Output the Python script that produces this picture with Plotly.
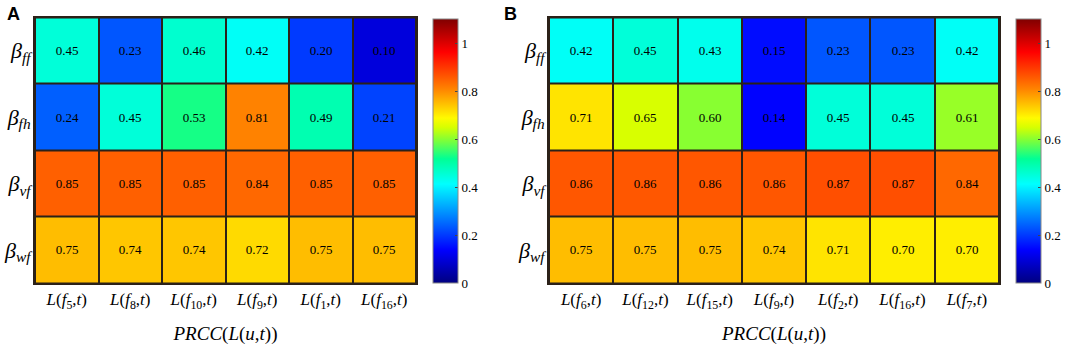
import plotly.graph_objects as go

rows = ["ff", "fh", "vf", "wf"]
cols_a = ["5", "8", "10", "9", "1", "16"]
cols_b = ["6", "12", "15", "9", "2", "16", "7"]

vals_a = [
    [0.45, 0.23, 0.46, 0.42, 0.20, 0.10],
    [0.24, 0.45, 0.53, 0.81, 0.49, 0.21],
    [0.85, 0.85, 0.85, 0.84, 0.85, 0.85],
    [0.75, 0.74, 0.74, 0.72, 0.75, 0.75],
]
vals_b = [
    [0.42, 0.45, 0.43, 0.15, 0.23, 0.23, 0.42],
    [0.71, 0.65, 0.60, 0.14, 0.45, 0.45, 0.61],
    [0.86, 0.86, 0.86, 0.86, 0.87, 0.87, 0.84],
    [0.75, 0.75, 0.75, 0.74, 0.71, 0.70, 0.70],
]
cbar_ticks = [0, 0.2, 0.4, 0.6, 0.8, 1]
cbar_ticktext = ["0", "0.2", "0.4", "0.6", "0.8", "1"]

# jet-like colour map as in the reference
cmap = [
    [0.0, "rgb(0,0,128)"],
    [0.125, "rgb(0,0,255)"],
    [0.375, "rgb(0,255,255)"],
    [0.47, "rgb(0,255,150)"],
    [0.545, "rgb(135,255,50)"],
    [0.59, "rgb(215,255,0)"],
    [0.625, "rgb(255,250,0)"],
    [0.736, "rgb(255,130,0)"],
    [0.875, "rgb(255,0,0)"],
    [1.0, "rgb(128,0,0)"],
]

W, H = 1065, 345
serif = "'Liberation Serif', 'DejaVu Serif', serif"
dark = "#2b2118"

ylabels = [f"<i>β</i><sub><i>{r}</i></sub>" for r in rows]
xl_a = [f"<i>L</i>(<i>f</i><sub>{c}</sub>,<i>t</i>)" for c in cols_a]
xl_b = [f"<i>L</i>(<i>f</i><sub>{c}</sub>,<i>t</i>)" for c in cols_b]

fig = go.Figure()
fig.add_trace(go.Heatmap(
    z=vals_a, x=list(range(len(cols_a))), y=list(range(len(rows))),
    coloraxis="coloraxis", xgap=2, ygap=2,
    texttemplate="%{z:.2f}", textfont=dict(family=serif, size=13, color="black"),
    xaxis="x", yaxis="y", hoverinfo="skip"))
fig.add_trace(go.Heatmap(
    z=vals_b, x=list(range(len(cols_b))), y=list(range(len(rows))),
    coloraxis="coloraxis2", xgap=2, ygap=2,
    texttemplate="%{z:.2f}", textfont=dict(family=serif, size=13, color="black"),
    xaxis="x2", yaxis="y2", hoverinfo="skip"))

def px_x(p):
    return p / W

def px_y(p):
    return 1 - p / H

top, bot = 17.5, 283
cb = dict(
    tickvals=cbar_ticks, ticktext=cbar_ticktext,
    tickfont=dict(family=serif, size=13, color="black"),
    thickness=25, thicknessmode="pixels",
    len=264, lenmode="pixels", yanchor="top", y=px_y(19),
    xanchor="left", xpad=0, ypad=0,
    outlinecolor="#888", outlinewidth=1,
    ticks="inside", ticklen=3, tickcolor="#444",
)
axis_common = dict(showgrid=False, zeroline=False, showline=True, mirror=True,
                   linecolor=dark, linewidth=2)
title_text = "<i>PRCC</i>(<i>L</i>(<i>u</i>,<i>t</i>))"
title_font = dict(family=serif, size=19, color="black")
xtick_font = dict(family=serif, size=17, color="black")
ytick_font = dict(family=serif, size=22, color="black")

fig.update_layout(
    width=W, height=H,
    margin=dict(l=0, r=0, t=0, b=0),
    paper_bgcolor="white", plot_bgcolor=dark,
    coloraxis=dict(colorscale=cmap, cmin=0, cmax=1.1,
                   colorbar=dict(cb, x=px_x(433))),
    coloraxis2=dict(colorscale=cmap, cmin=0, cmax=1.1,
                    colorbar=dict(cb, x=px_x(1016))),
    xaxis=dict(axis_common, domain=[px_x(35), px_x(416)], range=[-0.5, len(cols_a) - 0.5],
               tickvals=list(range(len(cols_a))), ticktext=xl_a, ticks="",
               tickfont=xtick_font, ticklabelstandoff=0,
               title=dict(text=title_text, font=title_font, standoff=19)),
    yaxis=dict(axis_common, domain=[px_y(bot), px_y(top)], range=[len(rows) - 0.5, -0.5],
               tickvals=list(range(len(rows))), ticktext=ylabels, ticks="",
               tickfont=ytick_font, ticklabelstandoff=-2),
    xaxis2=dict(axis_common, domain=[px_x(549), px_x(999)], range=[-0.5, len(cols_b) - 0.5],
                tickvals=list(range(len(cols_b))), ticktext=xl_b, ticks="",
                tickfont=xtick_font, ticklabelstandoff=0, anchor="y2",
                title=dict(text=title_text, font=title_font, standoff=19)),
    yaxis2=dict(axis_common, domain=[px_y(bot), px_y(top)], range=[len(rows) - 0.5, -0.5],
                tickvals=list(range(len(rows))), ticktext=ylabels, ticks="", anchor="x2",
                tickfont=ytick_font, ticklabelstandoff=-2),
    annotations=[
        dict(text="<b>A</b>", x=px_x(5), y=px_y(2), xref="paper", yref="paper",
             xanchor="left", yanchor="top", showarrow=False,
             font=dict(family="Liberation Sans", size=18, color="black")),
        dict(text="<b>B</b>", x=px_x(502), y=px_y(2), xref="paper", yref="paper",
             xanchor="left", yanchor="top", showarrow=False,
             font=dict(family="Liberation Sans", size=18, color="black")),
    ],
)

fig.write_html("out.html", config={"displayModeBar": False},
               post_script="document.body.style.margin='0';")
